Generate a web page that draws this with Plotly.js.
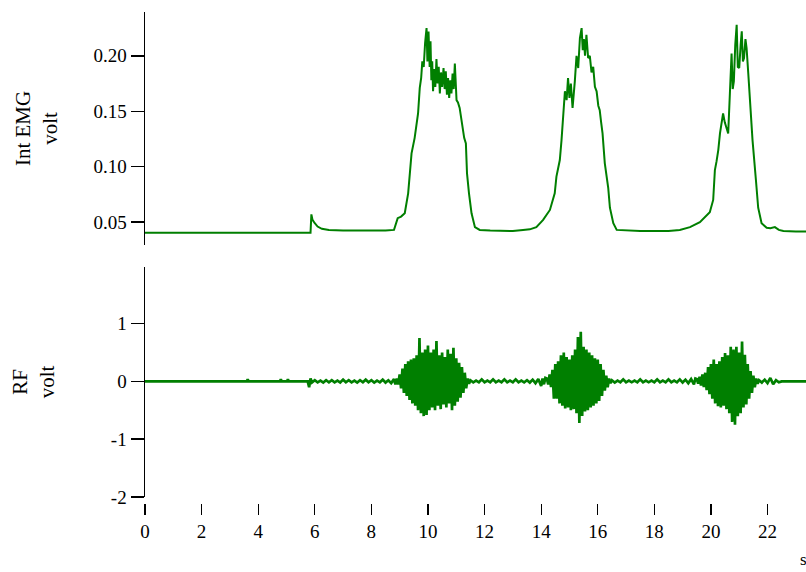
<!DOCTYPE html>
<html>
<head>
<meta charset="utf-8">
<script src="https://cdn.plot.ly/plotly-3.0.1.min.js"></script>
<style>html,body{margin:0;padding:0;background:#fff;}#chart{width:806px;height:572px;}</style>
</head>
<body>
<div id="chart"></div>
<script>
// Integrated EMG (volt) vs time (s)
const emgTime = [0, 5.85, 5.88, 5.92, 6.0, 6.1, 6.25, 6.5, 7.0, 7.5, 8.0, 8.5, 8.8,
  8.93, 9.05, 9.18, 9.3, 9.42, 9.53, 9.6, 9.65, 9.71, 9.76, 9.80, 9.85, 9.9, 9.95, 9.98, 10.02, 10.06, 10.09,
  10.12, 10.15, 10.18, 10.22, 10.26, 10.30, 10.34, 10.38, 10.42, 10.46, 10.5, 10.55, 10.59, 10.63, 10.67, 10.71,
  10.75, 10.79, 10.83, 10.87, 10.91, 10.95, 11.01, 11.06, 11.12, 11.17, 11.22, 11.28, 11.34, 11.38, 11.45, 11.54,
  11.66, 11.83, 12.2, 12.6, 13.0, 13.36, 13.6, 13.83, 14.07, 14.31, 14.48, 14.54, 14.6, 14.66, 14.72, 14.78, 14.84,
  14.9, 14.95, 15.0, 15.05, 15.11, 15.15, 15.19, 15.25, 15.31, 15.37, 15.43, 15.47, 15.51, 15.55, 15.6, 15.66,
  15.72, 15.78, 15.84, 15.9, 15.96, 16.02, 16.07, 16.12, 16.17, 16.25, 16.37, 16.43, 16.55, 16.67, 17.0, 17.5,
  18.0, 18.5, 18.9, 19.26, 19.61, 19.96, 20.08, 20.14, 20.2, 20.26, 20.32, 20.38, 20.43, 20.49, 20.55, 20.61,
  20.67, 20.73, 20.77, 20.81, 20.86, 20.91, 20.95, 21.0, 21.05, 21.09, 21.13, 21.17, 21.22, 21.26, 21.32, 21.38,
  21.47, 21.59, 21.67, 21.79, 21.97, 22.1, 22.26, 22.4, 22.56, 23.0, 23.5];
const emgVolt = [0.0405, 0.0405, 0.057, 0.052, 0.049, 0.046, 0.044, 0.043, 0.0425, 0.0425, 0.042, 0.0425, 0.043,
  0.0536, 0.055, 0.058, 0.076, 0.112, 0.126, 0.14, 0.148, 0.171, 0.18, 0.195, 0.19, 0.212, 0.225, 0.195, 0.222, 0.19, 0.213,
  0.178, 0.195, 0.168, 0.188, 0.172, 0.197, 0.175, 0.19, 0.166, 0.185, 0.172, 0.189, 0.17, 0.186, 0.165, 0.18,
  0.162, 0.178, 0.166, 0.184, 0.17, 0.193, 0.16, 0.158, 0.153, 0.145, 0.135, 0.126, 0.121, 0.094, 0.076, 0.058,
  0.0455, 0.043, 0.0425, 0.042, 0.042, 0.043, 0.0435, 0.0455, 0.052, 0.061, 0.076, 0.091, 0.1, 0.106, 0.124, 0.151, 0.168,
  0.16, 0.18, 0.162, 0.175, 0.153, 0.17, 0.177, 0.2, 0.189, 0.216, 0.225, 0.205, 0.215, 0.2, 0.219, 0.198,
  0.2, 0.185, 0.19, 0.172, 0.168, 0.155, 0.151, 0.14, 0.13, 0.103, 0.081, 0.063, 0.049, 0.043, 0.0425, 0.042,
  0.042, 0.042, 0.043, 0.0455, 0.05, 0.059, 0.07, 0.097, 0.105, 0.115, 0.13, 0.138, 0.148, 0.14, 0.135, 0.13,
  0.166, 0.202, 0.17, 0.177, 0.21, 0.228, 0.19, 0.189, 0.21, 0.222, 0.195, 0.198, 0.215, 0.207, 0.184, 0.157,
  0.124, 0.088, 0.063, 0.049, 0.045, 0.0445, 0.0455, 0.043, 0.042, 0.0415, 0.0415];

// Raw RF EMG (volt) vs time (s)
const rfTime = [0, 3.6, 3.63, 3.66, 4.77, 4.8, 4.83, 5.02, 5.05, 5.08, 5.7,
  5.75, 5.8, 5.85, 5.9, 6.0, 6.1, 6.2, 6.3, 6.4, 6.5, 6.6, 6.7, 6.8, 6.9, 7.0, 7.1, 7.2, 7.3, 7.4, 7.5, 7.6, 7.7, 7.8, 7.9,
  8.0, 8.1, 8.2, 8.3, 8.4, 8.5, 8.6, 8.7, 8.8, 8.85,
  8.90, 8.95, 9.00, 9.05, 9.10, 9.15, 9.20, 9.25, 9.30, 9.35, 9.40, 9.45, 9.50, 9.55, 9.60, 9.65, 9.70, 9.75, 9.80, 9.85,
  9.90, 9.95, 10.00, 10.05, 10.10, 10.15, 10.20, 10.25, 10.30, 10.35, 10.40, 10.45, 10.50, 10.55, 10.60, 10.65, 10.70,
  10.75, 10.80, 10.85, 10.90, 10.95, 11.00, 11.05, 11.10, 11.15, 11.20, 11.25, 11.30, 11.35, 11.40, 11.45,
  11.5, 11.6, 11.7, 11.8, 11.9, 12.0, 12.1, 12.2, 12.3, 12.4, 12.5, 12.6, 12.7, 12.8, 12.9, 13.0, 13.1, 13.2, 13.3, 13.4,
  13.5, 13.6, 13.7, 13.8, 13.9, 14.0, 14.05, 14.1, 14.15,
  14.20, 14.25, 14.30, 14.35, 14.40, 14.45, 14.50, 14.55, 14.60, 14.65, 14.70, 14.75, 14.80, 14.85, 14.90, 14.95,
  15.00, 15.05, 15.10, 15.15, 15.20, 15.25, 15.30, 15.35, 15.40, 15.45, 15.50, 15.55, 15.60, 15.65, 15.70, 15.75,
  15.80, 15.85, 15.90, 15.95, 16.00, 16.05, 16.10, 16.15, 16.20, 16.25, 16.30, 16.35, 16.40, 16.45,
  16.5, 16.6, 16.7, 16.8, 16.9, 17.0, 17.1, 17.2, 17.3, 17.4, 17.5, 17.6, 17.7, 17.8, 17.9, 18.0, 18.1, 18.2, 18.3, 18.4,
  18.5, 18.6, 18.7, 18.8, 18.9, 19.0, 19.1, 19.2, 19.3, 19.4, 19.45,
  19.50, 19.55, 19.60, 19.65, 19.70, 19.75, 19.80, 19.85, 19.90, 19.95, 20.00, 20.05, 20.10, 20.15, 20.20, 20.25,
  20.30, 20.35, 20.40, 20.45, 20.50, 20.55, 20.60, 20.65, 20.70, 20.75, 20.80, 20.85, 20.90, 20.95, 21.00, 21.05,
  21.10, 21.15, 21.20, 21.25, 21.30, 21.35, 21.40, 21.45, 21.50, 21.55, 21.60, 21.65,
  21.7, 21.8, 21.9, 22.0, 22.1, 22.2, 22.3, 22.4, 22.5, 23.0, 23.5];
const rfVolt = [0, 0, 0.04, 0, 0, 0.04, 0, 0, 0.04, 0, 0,
  0, -0.1, 0.05, -0.02, 0.02, -0.015, 0.015, -0.02, 0.02, -0.015, 0.02, -0.015, 0.015, -0.02, 0.03, -0.015, 0.02, -0.015, 0.015, -0.02, 0.02, -0.015, 0.03, -0.015,
  0.02, -0.02, 0.015, -0.015, 0.03, -0.02, 0.02, -0.03, 0.04, -0.05,
  0.05, -0.05, 0.12, -0.12, 0.22, -0.20, 0.30, -0.25, 0.35, -0.32, 0.38, -0.38, 0.40, -0.42, 0.45, -0.50, 0.75, -0.55, 0.50, -0.60,
  0.55, -0.58, 0.62, -0.50, 0.50, -0.45, 0.55, -0.50, 0.70, -0.42, 0.45, -0.48, 0.50, -0.40, 0.42, -0.45, 0.55,
  -0.38, 0.48, -0.50, 0.58, -0.42, 0.40, -0.35, 0.32, -0.28, 0.25, -0.20, 0.15, -0.12, 0.05, -0.04,
  0.02, -0.015, 0.015, -0.015, 0.035, -0.015, 0.015, -0.015, 0.035, -0.015, 0.015, -0.015, 0.035, -0.015, 0.015, -0.015, 0.035, -0.015, 0.015, -0.015,
  0.02, -0.02, 0.03, -0.03, 0.04, -0.08, 0.05, -0.05, 0.06,
  0.05, -0.05, 0.12, -0.10, 0.20, -0.30, 0.30, -0.30, 0.35, -0.38, 0.45, -0.42, 0.50, -0.47, 0.42, -0.45,
  0.38, -0.50, 0.45, -0.48, 0.55, -0.55, 0.77, -0.72, 0.86, -0.60, 0.60, -0.52, 0.55, -0.50, 0.50, -0.45,
  0.45, -0.42, 0.40, -0.38, 0.38, -0.34, 0.30, -0.25, 0.20, -0.16, 0.10, -0.10, 0.05, -0.03,
  0.02, -0.02, 0.015, -0.015, 0.035, -0.015, 0.015, -0.015, 0.015, -0.015, 0.035, -0.015, 0.015, -0.015, 0.015, -0.015, 0.035, -0.015, 0.015, -0.015,
  0.035, -0.015, 0.015, -0.015, 0.035, -0.02, 0.03, -0.03, 0.04, -0.05, 0.05,
  0.04, -0.04, 0.08, -0.07, 0.12, -0.10, 0.15, -0.15, 0.25, -0.22, 0.30, -0.30, 0.38, -0.38, 0.30, -0.43,
  0.35, -0.45, 0.42, -0.42, 0.49, -0.48, 0.45, -0.55, 0.60, -0.70, 0.55, -0.75, 0.60, -0.60, 0.50, -0.55,
  0.69, -0.45, 0.46, -0.40, 0.30, -0.30, 0.18, -0.20, 0.10, -0.10, 0.05, -0.04,
  0.02, -0.02, 0.03, -0.03, 0.06, -0.05, 0.02, -0.015, 0, 0, 0];

const xTicks = [0, 2, 4, 6, 8, 10, 12, 14, 16, 18, 20, 22];
const emgTicks = [0.05, 0.10, 0.15, 0.20];
const emgTickText = ['0.05', '0.10', '0.15', '0.20'];
const rfTicks = [-2, -1, 0, 1];
const rfTickText = ['-2', '-1', '0', '1'];

const green = '#007f00';
const fontFam = '"Liberation Serif", "Times New Roman", serif';

const traces = [
  {x: emgTime, y: emgVolt, xaxis: 'x2', yaxis: 'y2', mode: 'lines', line: {color: green, width: 2}, hoverinfo: 'skip'},
  {x: rfTime, y: rfVolt, xaxis: 'x', yaxis: 'y', mode: 'lines', line: {color: green, width: 2.7}, hoverinfo: 'skip'}
];

const axisCommon = {showgrid: false, zeroline: false, color: '#000',
  tickfont: {family: fontFam, size: 19, color: '#000'}};

const layout = {
  width: 806, height: 572,
  margin: {l: 145, r: 0, t: 12, b: 69},
  paper_bgcolor: '#fff', plot_bgcolor: '#fff',
  showlegend: false,
  font: {family: fontFam, color: '#000'},
  xaxis: Object.assign({}, axisCommon, {
    range: [0, 23.36], anchor: 'free', position: 0, showline: false,
    ticks: 'outside', ticklen: 11, tickwidth: 1.2, tickcolor: '#000',
    tickmode: 'array', tickvals: xTicks, ticktext: xTicks.map(String)
  }),
  xaxis2: Object.assign({}, axisCommon, {
    matches: 'x', anchor: 'y2', showline: false, ticks: '', showticklabels: false
  }),
  yaxis: Object.assign({}, axisCommon, {
    domain: [0.0122, 0.4807], range: [-2, 1.98], anchor: 'x',
    showline: true, linewidth: 1.5, linecolor: '#000',
    ticks: 'outside', ticklen: 13, tickwidth: 1.5, tickcolor: '#000',
    tickmode: 'array', tickvals: rfTicks, ticktext: rfTickText,
    title: {text: 'RF<br>volt', font: {family: fontFam, size: 21, color: '#000'}, standoff: 50}
  }),
  yaxis2: Object.assign({}, axisCommon, {
    domain: [0.5255, 1], range: [0.0294, 0.2395], anchor: 'x2',
    showline: true, linewidth: 1.5, linecolor: '#000',
    ticks: 'outside', ticklen: 13, tickwidth: 1.5, tickcolor: '#000',
    tickmode: 'array', tickvals: emgTicks, ticktext: emgTickText,
    title: {text: 'Int EMG<br>volt', font: {family: fontFam, size: 21, color: '#000'}, standoff: 30}
  }),
  annotations: [
    {text: 's', xref: 'paper', yref: 'paper', x: 0.988, y: -0.116, xanchor: 'left', yanchor: 'middle',
     showarrow: false, font: {family: fontFam, size: 17, color: '#000'}}
  ]
};

Plotly.newPlot('chart', traces, layout, {displayModeBar: false, staticPlot: true});
</script>
</body>
</html>
